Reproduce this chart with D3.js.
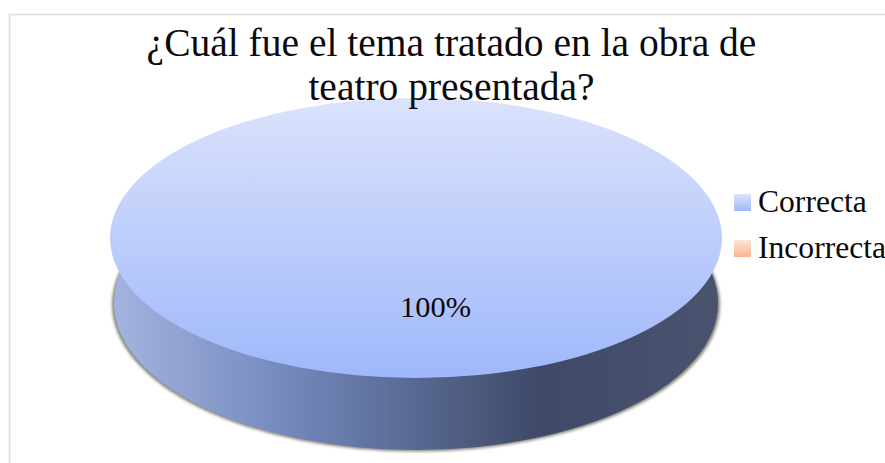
<!DOCTYPE html>
<html><head><meta charset="utf-8">
<script src="https://cdn.jsdelivr.net/npm/d3@7/dist/d3.min.js"></script>
<style>html,body{margin:0;padding:0;background:#fff}svg{display:block}text{font-family:"Liberation Serif",serif;fill:#0a0a0a}</style>
</head><body><svg id="c" width="885" height="463"></svg>
<script>
const categories = ["Correcta", "Incorrecta"];
const values = [100, 0];
const titleLines = ["¿Cuál fue el tema tratado en la obra de", "teatro presentada?"];
const topStops = [["#dbe3fb", 0], ["#9fb8fb", 1]];
const legendStops = [[["#dbe3fb", 0], ["#9fb8fb", 1]], [["#fde3d6", 0], ["#fbb592", 1]]];
const sideStops = [["#a3b3e0", 0], ["#7187ba", 0.3], ["#3f4a68", 0.7], ["#4a536e", 1]];

const W = 885, H = 463;
const cx = 416, cy = 238, rx = 306, ry = 140;
const baseCy = 303, baseRx = 302, baseRy = 147;
const svg = d3.select("#c");
const defs = svg.append("defs");
function grad(id, stops, horizontal) {
  const g = defs.append("linearGradient").attr("id", id)
    .attr("x1", 0).attr("y1", 0).attr("x2", horizontal ? 1 : 0).attr("y2", horizontal ? 0 : 1);
  g.selectAll("stop").data(stops).join("stop")
    .attr("offset", d => d[1]).attr("stop-color", d => d[0]);
}
grad("top", topStops, false);
grad("side", sideStops, true);
legendStops.forEach((s, i) => grad("leg" + i, s, false));
defs.append("filter").attr("id", "blur").attr("x", "-5%").attr("y", "-5%").attr("width", "110%").attr("height", "110%")
  .append("feGaussianBlur").attr("stdDeviation", 1.4);

// frame
svg.append("path").attr("d", `M9.5 ${H} V14.5 H${W}`).attr("fill", "none").attr("stroke", "#dcdcdc").attr("stroke-width", 1.6);

// pie: soft shadow, base ellipse (side wall), then the top face
const pie = d3.pie().sort(null).value(d => d)(values);
const arc = d3.arc().innerRadius(0).outerRadius(1);
const fullCircle = arc({startAngle: 0, endAngle: 2 * Math.PI});
svg.append("g").attr("filter", "url(#blur)")
  .append("path").attr("d", fullCircle).attr("fill", "#85857b")
  .attr("transform", `translate(${cx},${baseCy + 1.5}) scale(${baseRx + 2},${baseRy})`);
svg.append("path").attr("d", fullCircle).attr("fill", "url(#side)")
  .attr("transform", `translate(${cx},${baseCy}) scale(${baseRx},${baseRy})`);
svg.append("g").attr("transform", `translate(${cx},${cy}) scale(${rx},${ry})`)
  .selectAll("path").data(pie).join("path")
  .attr("d", arc).attr("fill", "url(#top)");

// pct label
svg.append("text").attr("x", 435.5).attr("y", 317).attr("text-anchor", "middle").attr("font-size", 30.4)
  .text(d3.format(".0%")(values[0] / d3.sum(values)));

// title
svg.append("g").selectAll("text").data(titleLines).join("text")
  .attr("x", 451.5).attr("y", (d, i) => 56 + i * 43.5).attr("text-anchor", "middle").attr("font-size", 39.5)
  .text(d => d);

// legend
const ly = d3.scalePoint().domain(categories).range([202, 248]);
const lg = svg.append("g").selectAll("g").data(categories).join("g")
  .attr("transform", d => `translate(734,${ly(d)})`);
lg.append("rect").attr("y", -8).attr("width", 17).attr("height", 17).attr("fill", (d, i) => `url(#leg${i})`);
lg.append("text").attr("x", 24).attr("y", 10).attr("font-size", 31.6).text(d => d);
</script></body></html>
